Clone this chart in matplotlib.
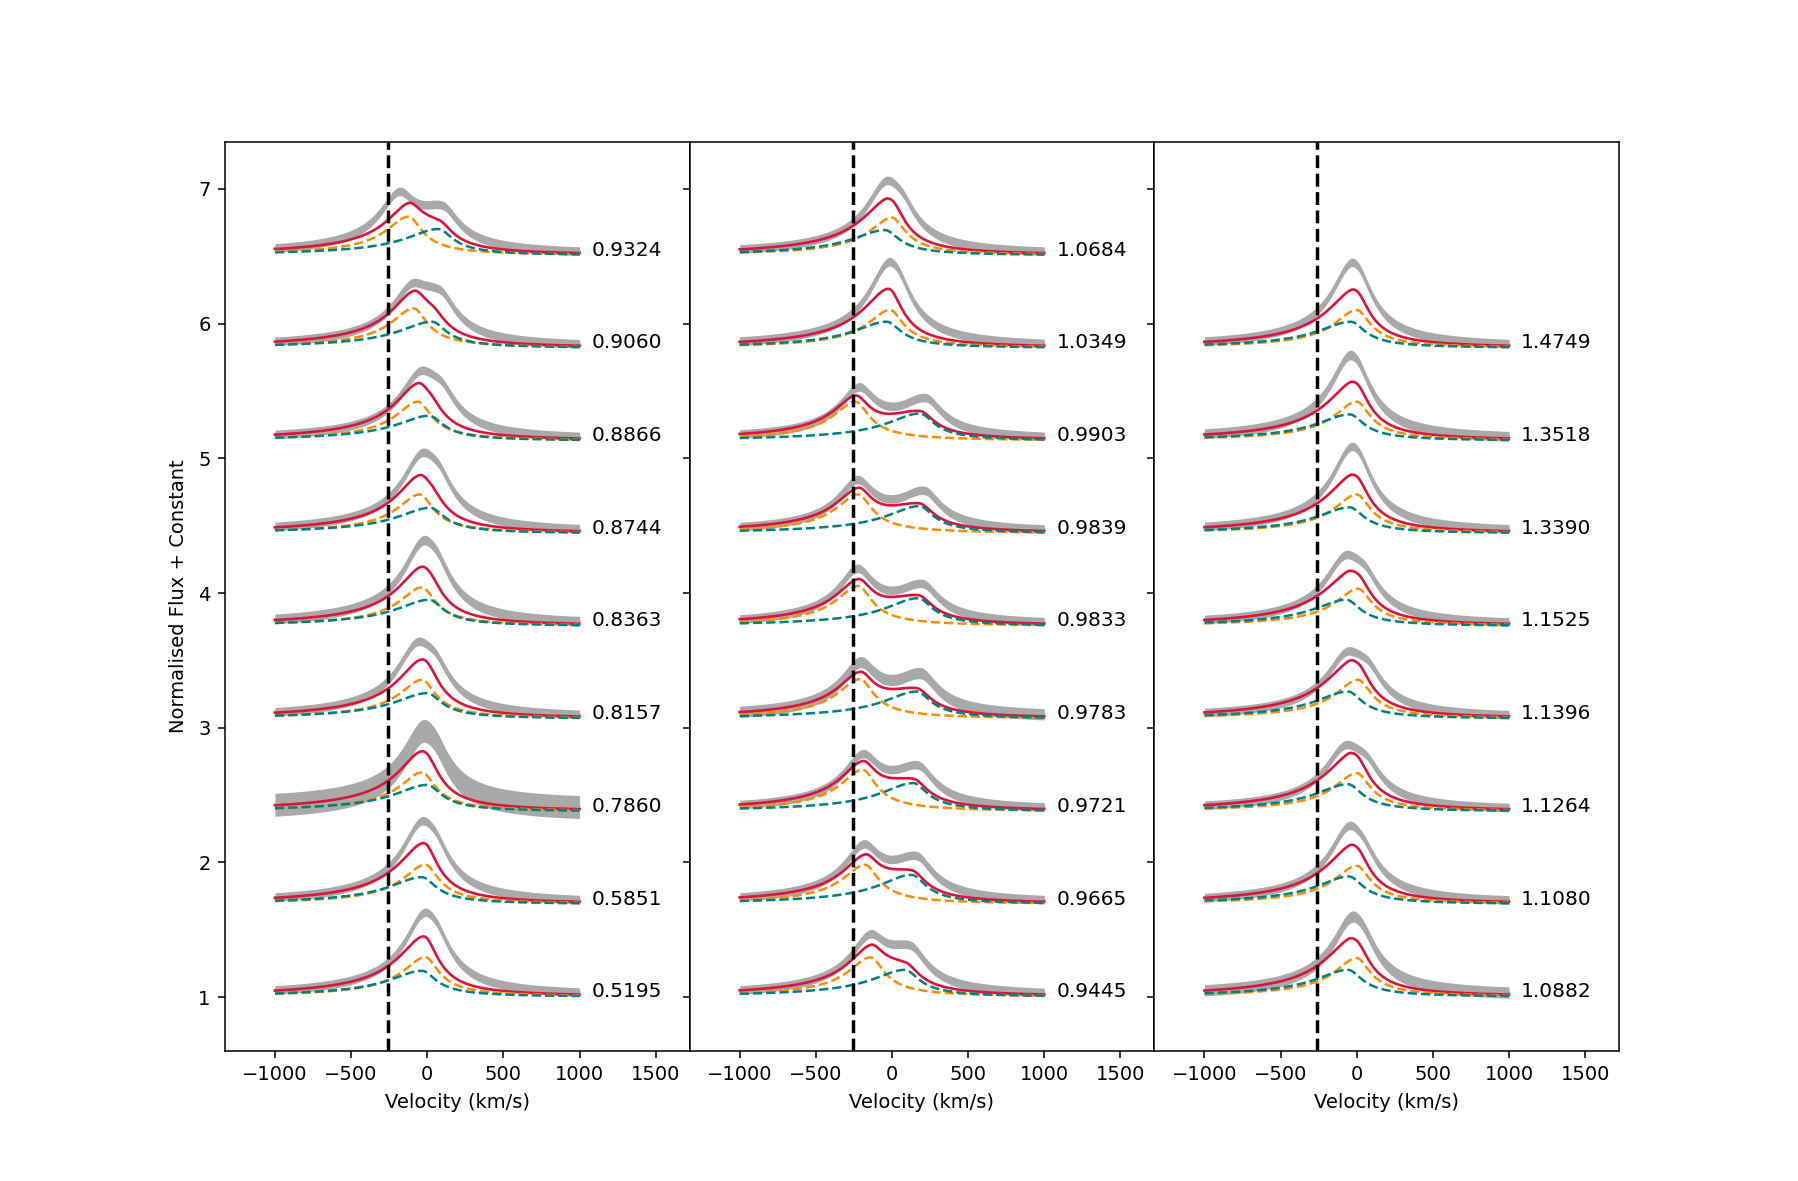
import numpy as np
import matplotlib
matplotlib.use("Agg")
import matplotlib.pyplot as plt

plt.rcParams.update({
    "font.size": 14,
    "xtick.major.size": 5.0, "xtick.major.pad": 5.3,
    "ytick.major.size": 5.0, "ytick.major.pad": 5.3,
    "xtick.major.width": 1.1, "ytick.major.width": 1.1,
    "axes.linewidth": 1.1,
})

# ---------------- data ----------------
marker_velocity = -258          # vertical dashed reference line (km/s)
offset_start = 1.0
offset_step = 0.688

# Panel 1 (bottom -> top)
p1_phase = ["0.5195", "0.5851", "0.7860", "0.8157", "0.8363", "0.8744", "0.8866", "0.9060", "0.9324"]
p1_orange_amp = [0.297, 0.295, 0.292, 0.292, 0.290, 0.292, 0.292, 0.297, 0.290]
p1_orange_cen = [-13, -13, -35, -35, -35, -50, -61, -90, -123]
p1_teal_amp = [0.196, 0.203, 0.200, 0.193, 0.198, 0.193, 0.188, 0.198, 0.198]
p1_teal_cen = [-35, -35, 0, 0, 13, 20, 13, 31, 74]
p1_obs1_amp = [0.36, 0.34, 0.33, 0.32, 0.35, 0.33, 0.30, 0.29, 0.36]
p1_obs1_cen = [-30, -50, -40, -80, -40, -50, -60, -110, -190]
p1_obs2_amp = [0.30, 0.32, 0.30, 0.32, 0.33, 0.33, 0.30, 0.32, 0.28]
p1_obs2_cen = [50, 40, 40, 40, 50, 60, 80, 80, 100]
p1_noise = [0.032, 0.032, 0.085, 0.032, 0.036, 0.032, 0.032, 0.032, 0.032]

# Panel 2 (bottom -> top)
p2_phase = ["0.9445", "0.9665", "0.9721", "0.9783", "0.9833", "0.9839", "0.9903", "1.0349", "1.0684"]
p2_orange_amp = [0.295, 0.295, 0.312, 0.297, 0.300, 0.292, 0.292, 0.285, 0.282]
p2_orange_cen = [-140, -177, -193, -210, -221, -221, -239, -13, 0]
p2_teal_amp = [0.203, 0.220, 0.213, 0.205, 0.210, 0.205, 0.205, 0.198, 0.190]
p2_teal_cen = [85, 129, 140, 162, 173, 180, 184, -35, -46]
p2_obs1_amp = [0.34, 0.35, 0.34, 0.34, 0.36, 0.33, 0.33, 0.36, 0.32]
p2_obs1_cen = [-150, -190, -195, -210, -230, -230, -220, -30, -50]
p2_obs2_amp = [0.29, 0.29, 0.28, 0.28, 0.26, 0.27, 0.27, 0.30, 0.28]
p2_obs2_cen = [120, 160, 170, 190, 200, 210, 220, 30, 50]
p2_noise = [0.032, 0.032, 0.032, 0.042, 0.032, 0.032, 0.032, 0.032, 0.032]

# Panel 3 (bottom -> top, top row empty)
p3_phase = ["1.0882", "1.1080", "1.1264", "1.1396", "1.1525", "1.3390", "1.3518", "1.4749"]
p3_orange_amp = [0.290, 0.287, 0.287, 0.292, 0.280, 0.292, 0.292, 0.285]
p3_orange_cen = [0, 0, 0, 9, 9, 0, 0, 0]
p3_teal_amp = [0.203, 0.208, 0.205, 0.205, 0.198, 0.196, 0.198, 0.198]
p3_teal_cen = [-57, -50, -57, -57, -68, -46, -46, -39]
p3_obs1_amp = [0.35, 0.36, 0.29, 0.28, 0.30, 0.39, 0.38, 0.38]
p3_obs1_cen = [-40, -60, -90, -80, -90, -40, -50, -40]
p3_obs2_amp = [0.27, 0.26, 0.28, 0.30, 0.30, 0.27, 0.27, 0.27]
p3_obs2_cen = [30, 30, 50, 60, 40, 10, 0, 10]
p3_noise = [0.042, 0.032, 0.032, 0.032, 0.032, 0.032, 0.036, 0.032]

# profile shape parameters: (blue-side, red-side) half widths
orange_width = (150, 90)
teal_width = (220, 95)
obs1_width = (130, 110)
obs2_width = (170, 110)
profile_power = 0.65
model_scale = 0.92

panels = [
    (p1_phase, p1_orange_amp, p1_orange_cen, p1_teal_amp, p1_teal_cen,
     p1_obs1_amp, p1_obs1_cen, p1_obs2_amp, p1_obs2_cen, p1_noise),
    (p2_phase, p2_orange_amp, p2_orange_cen, p2_teal_amp, p2_teal_cen,
     p2_obs1_amp, p2_obs1_cen, p2_obs2_amp, p2_obs2_cen, p2_noise),
    (p3_phase, p3_orange_amp, p3_orange_cen, p3_teal_amp, p3_teal_cen,
     p3_obs1_amp, p3_obs1_cen, p3_obs2_amp, p3_obs2_cen, p3_noise),
]


def profile(v, amp, cen, widths):
    w = np.where(v < cen, widths[0], widths[1])
    return amp / (1.0 + ((v - cen) / w) ** 2) ** profile_power


v = np.linspace(-1000, 1000, 1201)

fig, axes = plt.subplots(1, 3, sharey=True, figsize=(17.99, 11.81), dpi=100)
fig.subplots_adjust(left=0.125, right=0.9, bottom=0.11, top=0.88, wspace=0)

for ax, data in zip(axes, panels):
    (phase, oa, oc, ta, tc, g1a, g1c, g2a, g2c, noise) = data
    for i in range(len(phase)):
        off = offset_start + offset_step * i
        ex_o = profile(v, oa[i], oc[i], orange_width)
        ex_t = profile(v, ta[i], tc[i], teal_width)
        obs = off + profile(v, g1a[i], g1c[i], obs1_width) + profile(v, g2a[i], g2c[i], obs2_width)
        ax.fill_between(v, obs - noise[i], obs + noise[i], color="darkgray", lw=0, zorder=1)
        ax.plot(v, obs, color="darkgray", lw=1.5, zorder=1)
        ax.plot(v, off + model_scale * (ex_o + ex_t), color="crimson", lw=1.9, zorder=3)
        ax.plot(v, off + ex_o, color="darkorange", ls="--", lw=1.8, zorder=4)
        ax.plot(v, off + ex_t, color="teal", ls="--", lw=1.8, zorder=5)
        ax.text(1080, off, phase[i], ha="left", va="baseline", fontsize=14.5)
    ax.axvline(marker_velocity, color="black", ls="--", lw=2.5, zorder=6)
    ax.set_xlim(-1329, 1723)
    ax.set_xlabel("Velocity (km/s)", labelpad=6.5)

axes[0].set_ylim(0.60, 7.35)
axes[0].set_yticks([1, 2, 3, 4, 5, 6, 7])
axes[0].set_ylabel("Normalised Flux + Constant", labelpad=7)

fig.savefig("out.png", dpi=100)
